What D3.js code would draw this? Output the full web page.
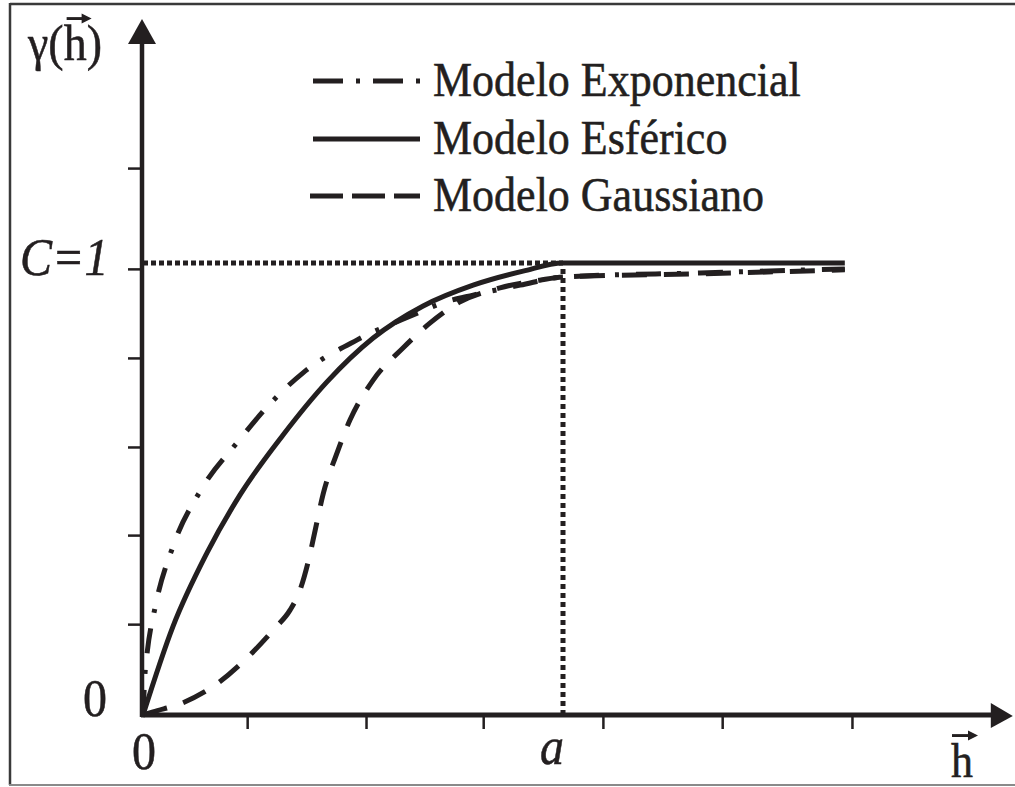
<!DOCTYPE html>
<html>
<head>
<meta charset="utf-8">
<script src="https://cdn.jsdelivr.net/npm/d3@7/dist/d3.min.js"></script>
<style>
  html, body { margin: 0; padding: 0; background: #ffffff; }
  svg { display: block; }
</style>
</head>
<body>
<svg id="chart" width="1015" height="787"></svg>
<script>
// Theoretical semivariogram models: lag h (in units of the range a) vs. semivariance γ(h) (in units of the sill C)

// Exponential model
const lagExp   = [0, 0.005, 0.010, 0.029, 0.071, 0.138, 0.229, 0.295, 0.381, 0.510, 0.643, 0.714, 0.786, 0.898, 1.0, 1.326, 1.671];
const gammaExp = [0, 0.095, 0.139, 0.239, 0.372, 0.498, 0.608, 0.681, 0.757, 0.830, 0.885, 0.912, 0.929, 0.951, 0.969, 0.978, 0.987];

// Spherical model
const lagSph   = [0, 0.071, 0.152, 0.231, 0.333, 0.438, 0.548, 0.667, 0.786, 0.905, 1.0, 1.671];
const gammaSph = [0, 0.195, 0.358, 0.487, 0.619, 0.737, 0.834, 0.905, 0.951, 0.982, 1.0, 1.0];

// Gaussian model
const lagGau   = [0, 0.024, 0.095, 0.176, 0.255, 0.314, 0.350, 0.374, 0.393, 0.410, 0.429, 0.460, 0.493, 0.548, 0.619, 0.683, 0.755, 0.850, 0.945, 1.0, 1.326, 1.671];
const gammaGau = [0, 0.007, 0.027, 0.069, 0.133, 0.192, 0.232, 0.277, 0.338, 0.409, 0.489, 0.575, 0.653, 0.741, 0.812, 0.867, 0.914, 0.945, 0.962, 0.969, 0.976, 0.985];

// Reference values and tick positions
const sill  = 1;       // C = 1
const range = 1;       // a
const xTicks = [0.248, 0.531, 0.810, 1.095, 1.379, 1.688];
const yTicks = [0.201, 0.398, 0.593, 0.790, 0.987, 1.210];
const xAxisEnd = 2.071;
const yAxisEnd = 1.540;

const legendLabels = ["Modelo Exponencial", "Modelo Esférico", "Modelo Gaussiano"];

const INK = "#231f20";
const FONT = '"Liberation Serif","Times New Roman","DejaVu Serif",serif';
const STRETCH = 1.12;

const svg = d3.select("#chart");

const x = d3.scaleLinear().domain([0, 1]).range([143, 563]);
const y = d3.scaleLinear().domain([0, 1]).range([715, 263]);

// Outer frame
svg.append("line").attr("x1", 10).attr("x2", 1015).attr("y1", 4).attr("y2", 4)
  .attr("stroke", "#3a3a3a").attr("stroke-width", 2.5);
svg.append("line").attr("x1", 10).attr("x2", 10).attr("y1", 3).attr("y2", 785)
  .attr("stroke", "#3a3a3a").attr("stroke-width", 2.5);
svg.append("line").attr("x1", 9).attr("x2", 1015).attr("y1", 785).attr("y2", 785)
  .attr("stroke", "#8a8a8a").attr("stroke-width", 2);

// Reference lines at the sill and at the range
svg.append("line")
  .attr("x1", x(0)).attr("x2", x(range)).attr("y1", y(sill)).attr("y2", y(sill))
  .attr("stroke", INK).attr("stroke-width", 5).attr("stroke-dasharray", "5 3");
svg.append("line")
  .attr("x1", x(range)).attr("x2", x(range)).attr("y1", y(0)).attr("y2", y(sill))
  .attr("stroke", INK).attr("stroke-width", 5).attr("stroke-dasharray", "5 4");

// Tick marks
const xAxis = d3.axisBottom(x).tickValues(xTicks).tickSize(14).tickFormat("");
const gx = svg.append("g").attr("transform", `translate(0,${y(0)})`).call(xAxis);
gx.select(".domain").remove();
gx.selectAll(".tick line").attr("stroke", INK).attr("stroke-width", 2.5);

const yAxis = d3.axisLeft(y).tickValues(yTicks).tickSize(14).tickFormat("");
const gy = svg.append("g").attr("transform", `translate(${x(0) - 1},0)`).call(yAxis);
gy.select(".domain").remove();
gy.selectAll(".tick line").attr("stroke", INK).attr("stroke-width", 2.5);

// Curves
const line = d3.line().x(d => x(d[0])).y(d => y(d[1])).curve(d3.curveMonotoneX);
const series = [
  { h: lagExp, g: gammaExp, dash: "25 16 4 17" },
  { h: lagSph, g: gammaSph, dash: null },
  { h: lagGau, g: gammaGau, dash: "25 17" }
];
series.forEach(s => {
  svg.append("path")
    .datum(s.h.map((h, i) => [h, s.g[i]]))
    .attr("d", line)
    .attr("fill", "none")
    .attr("stroke", INK)
    .attr("stroke-width", 5)
    .attr("stroke-dasharray", s.dash);
});

// Axes with arrowheads
svg.append("line").attr("x1", x(0) - 2).attr("x2", x(xAxisEnd) - 20)
  .attr("y1", y(0)).attr("y2", y(0)).attr("stroke", INK).attr("stroke-width", 5);
svg.append("path")
  .attr("d", `M${x(xAxisEnd)},${y(0) + 1}L${x(xAxisEnd) - 22},${y(0) - 12}L${x(xAxisEnd) - 22},${y(0) + 13}Z`)
  .attr("fill", INK);
svg.append("line").attr("x1", x(0) - 1).attr("x2", x(0) - 1)
  .attr("y1", y(0) + 2).attr("y2", y(yAxisEnd) + 22).attr("stroke", INK).attr("stroke-width", 4.5);
svg.append("path")
  .attr("d", `M${x(0) - 1},${y(yAxisEnd)}L${x(0) - 15},${y(yAxisEnd) + 25}L${x(0) + 13},${y(yAxisEnd) + 25}Z`)
  .attr("fill", INK);

// Text helper: serif text with slight vertical stretch
function label(xp, yp, txt, size, italic) {
  const g = svg.append("g").attr("transform", `translate(${xp},${yp}) scale(1,${STRETCH})`);
  const t = g.append("text")
    .attr("x", 0).attr("y", 0)
    .attr("font-family", FONT)
    .attr("font-size", size)
    .attr("font-style", italic ? "italic" : "normal")
    .attr("fill", INK)
    .attr("stroke", INK)
    .attr("stroke-width", 0.5)
    .text(txt);
  return { g, t };
}

// Small arrow drawn over a vector symbol
function vecArrow(g, x1, x2, yy) {
  g.append("line").attr("x1", x1).attr("x2", x2 - 7).attr("y1", yy).attr("y2", yy)
    .attr("stroke", INK).attr("stroke-width", 2.6);
  g.append("path").attr("d", `M${x2},${yy}L${x2 - 10},${yy - 4.5}L${x2 - 10},${yy + 4.5}Z`).attr("fill", INK);
}

// Y axis title γ(h→)
{
  const { g, t } = label(28, 60, "γ(h)", 46, false);
  const ext = t.node().getExtentOfChar(2);
  vecArrow(g, ext.x + 3, ext.x + ext.width + 5, -37);
}

// X axis title h→
{
  const { g, t } = label(951, 777, "h", 44, false);
  const ext = t.node().getExtentOfChar(0);
  vecArrow(g, ext.x + 1, ext.x + ext.width + 5, -37);
}

// Axis value labels
label(83, 716, "0", 48, false);
label(132, 769, "0", 48, false);
label(540, 764, "a", 48, true);
label(20, 275, "C=1", 48, true);

// Legend
const legendY = [81, 139, 196];
const legendDash = ["30 13 4 13", null, "33 9"];
legendLabels.forEach((name, i) => {
  svg.append("line")
    .attr("x1", i === 2 ? 310 : 313).attr("x2", 420)
    .attr("y1", legendY[i]).attr("y2", legendY[i])
    .attr("stroke", INK).attr("stroke-width", 5)
    .attr("stroke-dasharray", legendDash[i]);
  label(433, legendY[i] + 15, name, 44, false);
});
</script>
</body>
</html>
